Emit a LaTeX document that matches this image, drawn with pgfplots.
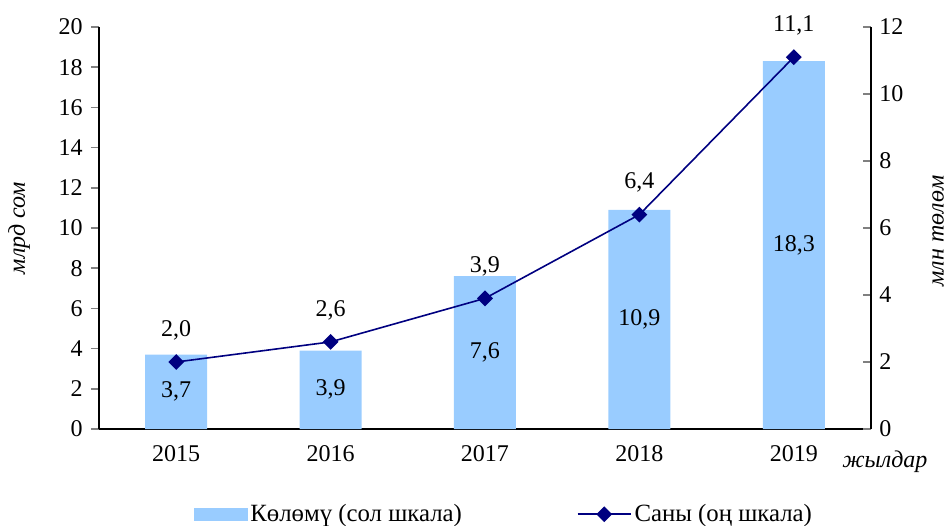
\documentclass[border=0pt]{standalone}
\usepackage{pgfplots}
\pgfplotsset{compat=1.18}
\usepackage{pgfplotstable}
\usepackage{fontspec}
\setmainfont{Liberation Serif}
\definecolor{barblue}{RGB}{153,204,255}
\definecolor{navy}{RGB}{0,0,128}
\pgfplotstableread{
x vol vlbl cnt clbl
0 3.7 3,7 2.0 2,0
1 3.9 3,9 2.6 2,6
2 7.6 7,6 3.9 3,9
3 10.9 10,9 6.4 6,4
4 18.3 18,3 11.1 11,1
}\data
\begin{document}
\fontsize{12pt}{14pt}\selectfont
\begin{tikzpicture}
\path[use as bounding box] (-49.5pt,-48pt) rectangle (426.5pt,214.5pt);
\begin{axis}[
  at={(0,0)}, anchor=south west,
  scale only axis, width=386pt, height=201pt,
  xmin=-0.5, xmax=4.5, ymin=0, ymax=20,
  axis x line*=bottom, axis y line*=left,
  axis line style={line width=0.8pt, -},
  ytick={0,2,...,20},
  xtick={0,1,2,3,4}, xticklabels={2015,2016,2017,2018,2019},
  extra x ticks={0.5,1.5,2.5,3.5}, extra x tick labels={},
  extra x tick style={major tick length=5pt, tick style={line width=0.8pt}},
  x tick style={draw=none},
  y tick style={line width=0.8pt},
  tick align=outside, major tick length=4pt,
  tick label style={font=\fontsize{12pt}{14pt}\selectfont},
  /pgf/number format/assume math mode=true,
  clip=false,
]
\addplot[ybar, bar width=31pt, fill=barblue, draw=none] table[x=x, y=vol] {\data};
\addplot[draw=none, nodes near coords, point meta=explicit symbolic,
  every node near coord/.style={anchor=center, font=\fontsize{12pt}{14pt}\selectfont, text=black}]
  table[x=x, y expr=\thisrow{vol}/2, meta=vlbl] {\data};
\node[font=\fontsize{12pt}{14pt}\selectfont\itshape] at (axis cs:4.59,0) [yshift=-16.5pt] {жылдар};
\node[xshift=-40pt, rotate=90, font=\fontsize{12pt}{14pt}\selectfont\itshape] at (rel axis cs:0,0.5) {млрд сом};
\end{axis}
\begin{axis}[
  at={(0,0)}, anchor=south west,
  scale only axis, width=386pt, height=201pt,
  xmin=-0.5, xmax=4.5, ymin=0, ymax=12,
  axis x line=none, axis y line*=right,
  axis line style={line width=0.8pt, -},
  ytick={0,2,...,12},
  y tick style={line width=0.8pt},
  tick align=inside, major tick length=4pt,
  tick label style={font=\fontsize{12pt}{14pt}\selectfont},
  /pgf/number format/assume math mode=true,
  clip=false,
  legend style={at={(0.525,-0.212)}, anchor=center, draw=none, fill=none,
    legend columns=2, font=\fontsize{12.4pt}{14pt}\selectfont,
    nodes={inner xsep=1.5pt},
    /tikz/every even column/.append style={column sep=56pt},
    legend cell align=left},
]
\addlegendimage{legend image code/.code={\fill[barblue] (0pt,-3pt) rectangle (26.5pt,3pt);}}
\addlegendentry{Көлөмү (сол шкала)}
\addplot[navy, line width=0.8pt, mark=square*, mark size=2.4pt, mark options={rotate=45, fill=navy},
  nodes near coords, point meta=explicit symbolic,
  every node near coord/.style={anchor=center, yshift=16pt, font=\fontsize{12pt}{14pt}\selectfont, text=black},
  legend image code/.code={\draw[navy, line width=0.8pt] (0pt,0pt) -- (26.5pt,0pt); \fill[navy] (13.25pt,0pt) +(0,3.4pt) -- +(3.4pt,0) -- +(0,-3.4pt) -- +(-3.4pt,0) -- cycle;}]
  table[x=x, y=cnt, meta=clbl] {\data};
\addlegendentry{Саны (оң шкала)}
\node[xshift=33.5pt, yshift=-1.5pt, rotate=90, font=\fontsize{12pt}{14pt}\selectfont\itshape] at (rel axis cs:1,0.5) {млн төлөм};
\end{axis}
\end{tikzpicture}
\end{document}
